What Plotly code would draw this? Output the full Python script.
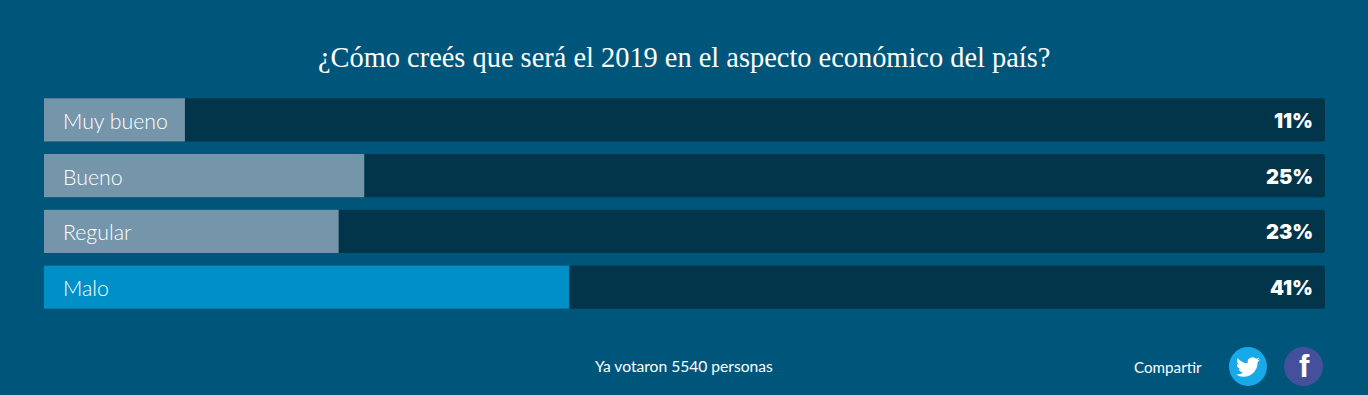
import urllib.parse
import plotly.graph_objects as go

categories = ["Muy bueno", "Bueno", "Regular", "Malo"]
values = [11, 25, 23, 41]
title = "¿Cómo creés que será el 2019 en el aspecto económico del país?"
footer = "Ya votaron 5540 personas"
share = "Compartir"
W, H = 1368, 395
L, R, T, B = 44, 1325, 92, 315
BG, TRACK, FILL, HIGH = "#00567a", "#02344a", "#7595ab", "#008fc6"
TW, FB = "#1aa9e8", "#44509c"
BIRD = ("M23.953 4.57a10 10 0 01-2.825.775 4.958 4.958 0 002.163-2.723c-.951.555-2.005.959-3.127 1.184"
        "a4.92 4.92 0 00-8.384 4.482C7.69 8.095 4.067 6.13 1.64 3.162a4.822 4.822 0 00-.666 2.475"
        "c0 1.71.87 3.213 2.188 4.096a4.904 4.904 0 01-2.228-.616v.06a4.923 4.923 0 003.946 4.827"
        " 4.996 4.996 0 01-2.212.085 4.936 4.936 0 004.604 3.417 9.867 9.867 0 01-6.102 2.105"
        "c-.39 0-.779-.023-1.17-.067a13.995 13.995 0 007.557 2.209c9.053 0 13.998-7.496 13.998-13.985"
        " 0-.21 0-.42-.015-.63A9.935 9.935 0 0024 4.59z")
SVG = f'<svg xmlns="http://www.w3.org/2000/svg" width="96" height="96" viewBox="0 0 24 24"><path fill="white" d="{BIRD}"/></svg>'

px = lambda x: (x - L) / (R - L)
py = lambda y: (B - y) / (B - T)


def note(text, x, y, **font):
    return dict(text=text, x=px(x), y=py(y), xref="paper", yref="paper", showarrow=False,
                xanchor="center", yanchor="middle", font=dict(color="white", **font))


fig = go.Figure()
fig.add_bar(y=categories, x=[100] * 4, orientation="h", marker=dict(color=TRACK, cornerradius=2, line_width=0),
            hoverinfo="skip")
fig.add_bar(y=categories, x=values, orientation="h", hoverinfo="skip",
            marker=dict(color=[HIGH if v == max(values) else FILL for v in values], line_width=0))

ann = [
    note(title, 683.5, 57, family="Liberation Serif", size=28.4),
    note(footer, 684, 366, family="Lato", size=15.6),
    note(share, 1168, 367, family="Lato", size=15.2),
    note("<b>f</b>", 1304, 366, family="Liberation Sans", size=31),
]
for c, v in zip(categories, values):
    ann.append(dict(text=c, x=0, y=c, xref="x", yref="y", xanchor="left", yanchor="middle", xshift=17, yshift=-1,
                    showarrow=False, font=dict(family="Lato", size=21.3, weight=300, color="white")))
    ann.append(dict(text=f"{v}%", x=100, y=c, xref="x", yref="y", xanchor="right", yanchor="middle", xshift=-10,
                    yshift=-1, showarrow=False, font=dict(family="Inter", size=20, weight=900, color="white")))

shapes = [
    dict(type="circle", xref="paper", yref="paper", x0=px(1229), x1=px(1267), y0=py(386), y1=py(347),
         fillcolor=TW, line_width=0, layer="below"),
    dict(type="circle", xref="paper", yref="paper", x0=px(1284), x1=px(1323), y0=py(386), y1=py(347),
         fillcolor=FB, line_width=0, layer="below"),
]
images = [dict(source="data:image/svg+xml," + urllib.parse.quote(SVG), xref="paper", yref="paper",
               x=px(1236), y=py(355), sizex=24 / (R - L), sizey=24 / (B - T), xanchor="left", yanchor="top",
               layer="above")]

fig.update_layout(
    width=W, height=H, margin=dict(l=L, r=W - R, t=T, b=H - B),
    paper_bgcolor=BG, plot_bgcolor=BG, barmode="overlay", bargap=0.22, showlegend=False,
    xaxis=dict(range=[0, 100], visible=False, fixedrange=True),
    yaxis=dict(categoryorder="array", categoryarray=categories[::-1], visible=False, fixedrange=True),
    annotations=ann, shapes=shapes, images=images, hovermode=False,
)
fig.write_html("out.html", config=dict(displayModeBar=False),
               post_script="document.body.style.margin='0';document.body.style.overflow='hidden';")
